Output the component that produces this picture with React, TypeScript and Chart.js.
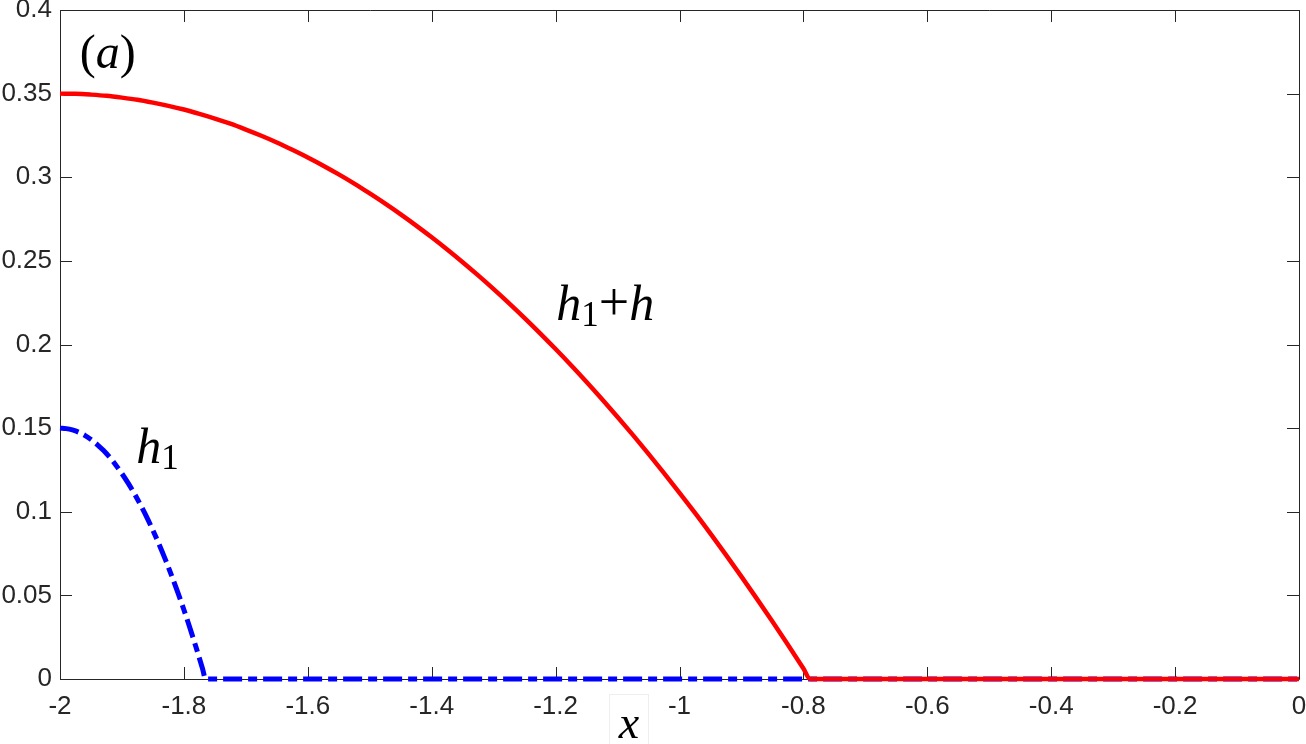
import React, { useEffect, useRef } from "react";
import { Chart, registerables } from "chart.js";

Chart.register(...registerables);

// h1 + h (solid red)
const redX = [-2, -1.975, -1.95, -1.925, -1.9, -1.875, -1.85, -1.825, -1.8, -1.775, -1.75, -1.725, -1.7, -1.675, -1.65, -1.625, -1.6, -1.575, -1.55, -1.525, -1.5, -1.475, -1.45, -1.425, -1.4, -1.375, -1.35, -1.325, -1.3, -1.275, -1.25, -1.225, -1.2, -1.175, -1.15, -1.125, -1.1, -1.075, -1.05, -1.025, -1, -0.975, -0.95, -0.925, -0.9, -0.875, -0.85, -0.825, -0.8, -0.789, 0];
const redY = [0.35, 0.3499, 0.3494, 0.3487, 0.3476, 0.3463, 0.3446, 0.3427, 0.3405, 0.3379, 0.3351, 0.332, 0.3285, 0.3248, 0.3208, 0.3164, 0.3118, 0.3069, 0.3017, 0.2962, 0.2903, 0.2842, 0.2778, 0.2711, 0.2641, 0.2568, 0.2492, 0.2413, 0.2331, 0.2246, 0.2158, 0.2067, 0.1973, 0.1876, 0.1776, 0.1673, 0.1567, 0.1458, 0.1346, 0.1231, 0.1113, 0.0993, 0.0869, 0.0742, 0.0612, 0.0479, 0.0344, 0.0205, 0.0063, 0, 0];

// h1 (blue dash-dot)
const blueX = [-2, -1.99, -1.98, -1.97, -1.96, -1.95, -1.94, -1.93, -1.92, -1.91, -1.9, -1.89, -1.88, -1.87, -1.86, -1.85, -1.84, -1.83, -1.82, -1.81, -1.8, -1.79, -1.78, -1.77, -1.765, 0];
const blueY = [0.15, 0.1497, 0.1489, 0.1476, 0.1457, 0.1432, 0.1402, 0.1367, 0.1326, 0.128, 0.1228, 0.1171, 0.1109, 0.1041, 0.0968, 0.0889, 0.0805, 0.0715, 0.062, 0.0519, 0.0414, 0.0302, 0.0185, 0.0063, 0, 0];

const xTicks = [-2, -1.8, -1.6, -1.4, -1.2, -1, -0.8, -0.6, -0.4, -0.2, 0];
const yTicks = [0, 0.05, 0.1, 0.15, 0.2, 0.25, 0.3, 0.35, 0.4];

const fmt = (v: number) => String(+Number(v).toFixed(4));

const SERIF = '"Liberation Serif", "DejaVu Serif", serif';
const AXIS = "#262626";

type Part = { t: string; italic?: boolean; size: number; dy?: number };

function drawRich(ctx: CanvasRenderingContext2D, x: number, y: number, parts: Part[]) {
  let cx = x;
  for (const p of parts) {
    ctx.font = `${p.italic ? "italic " : ""}${p.size}px ${SERIF}`;
    ctx.fillText(p.t, cx, y + (p.dy || 0));
    cx += ctx.measureText(p.t).width;
  }
}

const framePlugin = {
  id: "frame",
  beforeDatasetsDraw(chart: any) {
    const { ctx, chartArea } = chart;
    const { left, right, top, bottom } = chartArea;
    const xs = chart.scales.x;
    const ys = chart.scales.y;
    const tl = 12;
    ctx.save();
    ctx.strokeStyle = AXIS;
    ctx.lineWidth = 1;
    ctx.beginPath();
    ctx.rect(Math.round(left) + 0.5, Math.round(top) + 0.5, Math.round(right - left), Math.round(bottom - top));
    for (const v of xTicks) {
      const px = Math.round(xs.getPixelForValue(v)) + 0.5;
      ctx.moveTo(px, bottom);
      ctx.lineTo(px, bottom - tl);
      ctx.moveTo(px, top);
      ctx.lineTo(px, top + tl);
    }
    for (const v of yTicks) {
      const py = Math.round(ys.getPixelForValue(v)) + 0.5;
      ctx.moveTo(left, py);
      ctx.lineTo(left + tl, py);
      ctx.moveTo(right, py);
      ctx.lineTo(right - tl, py);
    }
    ctx.stroke();
    ctx.restore();
  },
  afterDraw(chart: any) {
    const { ctx, chartArea } = chart;
    const xs = chart.scales.x;
    const ys = chart.scales.y;
    ctx.save();
    ctx.fillStyle = "#000000";
    ctx.textBaseline = "alphabetic";
    ctx.textAlign = "left";
    // (a)
    drawRich(ctx, xs.getPixelForValue(-1.968), ys.getPixelForValue(0.3655), [
      { t: "(", size: 48 },
      { t: "a", italic: true, size: 48 },
      { t: ")", size: 48 },
    ]);
    // h1+h
    drawRich(ctx, xs.getPixelForValue(-1.199), ys.getPixelForValue(0.2146), [
      { t: "h", italic: true, size: 50 },
      { t: "1", size: 35, dy: 6 },
      { t: "+", size: 54 },
      { t: "h", italic: true, size: 50 },
    ]);
    // h1
    drawRich(ctx, xs.getPixelForValue(-1.877), ys.getPixelForValue(0.1291), [
      { t: "h", italic: true, size: 50 },
      { t: "1", size: 35, dy: 6 },
    ]);
    // x-axis title
    const tx = xs.getPixelForValue(-1.082);
    const ty = chartArea.bottom + 59;
    ctx.strokeStyle = "#eeeeee";
    ctx.lineWidth = 1;
    ctx.strokeRect(609.5, chartArea.bottom + 15.5, 39, 60);
    drawRich(ctx, tx - 10, ty, [{ t: "x", italic: true, size: 46 }]);
    ctx.restore();
  },
};

export default function App() {
  const ref = useRef<HTMLCanvasElement | null>(null);

  useEffect(() => {
    document.body.style.margin = "0";
    const canvas = ref.current;
    if (!canvas) return;
    const chart = new Chart(canvas, {
      type: "line",
      data: {
        datasets: [
          {
            label: "h1+h",
            data: redX.map((x, i) => ({ x, y: redY[i] })),
            borderColor: "#ff0000",
            borderWidth: 4.5,
            pointRadius: 0,
            cubicInterpolationMode: "monotone",
            clip: false,
            fill: false,
          } as any,
          {
            label: "h1",
            data: blueX.map((x, i) => ({ x, y: blueY[i] })),
            borderColor: "#0000ff",
            borderWidth: 5,
            borderDash: [19, 6, 9, 6],
            borderCapStyle: "butt",
            pointRadius: 0,
            cubicInterpolationMode: "monotone",
            clip: false,
            fill: false,
          } as any,
        ],
      },
      options: {
        responsive: false,
        animation: false,
        devicePixelRatio: 1,
        layout: { padding: { top: 10, right: 7, left: 0, bottom: 0 } },
        plugins: { legend: { display: false }, tooltip: { enabled: false } },
        scales: {
          x: {
            type: "linear",
            min: -2,
            max: 0,
            grid: { display: false, drawTicks: false },
            border: { display: false },
            ticks: {
              color: AXIS,
              font: { family: '"Liberation Sans", Arial, sans-serif', size: 26 },
              padding: 12,
              maxRotation: 0,
              autoSkip: false,
              callback: (v: any) => fmt(v),
            },
            afterBuildTicks: (s: any) => {
              s.ticks = xTicks.map((v) => ({ value: v }));
            },
            afterFit: (s: any) => {
              s.height = 65;
              s.paddingLeft = 0;
              s.paddingRight = 0;
            },
          },
          y: {
            type: "linear",
            min: 0,
            max: 0.4,
            grid: { display: false, drawTicks: false },
            border: { display: false },
            ticks: {
              color: AXIS,
              font: { family: '"Liberation Sans", Arial, sans-serif', size: 26 },
              padding: 8,
              autoSkip: false,
              callback: (v: any) => fmt(v),
            },
            afterBuildTicks: (s: any) => {
              s.ticks = yTicks.map((v) => ({ value: v }));
            },
            afterFit: (s: any) => {
              s.width = 60;
              s.paddingTop = 0;
              s.paddingBottom = 0;
            },
          },
        },
      } as any,
      plugins: [framePlugin],
    });
    return () => chart.destroy();
  }, []);

  return (
    <div style={{ position: "absolute", left: 0, top: 0, width: 1306, height: 744, background: "#ffffff" }}>
      <canvas ref={ref} width={1306} height={744} style={{ display: "block" }} />
    </div>
  );
}
